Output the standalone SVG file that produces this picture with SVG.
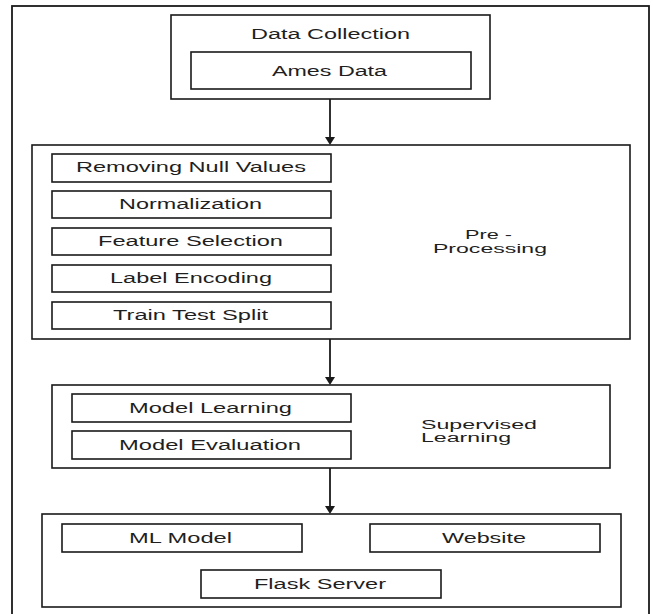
<svg xmlns="http://www.w3.org/2000/svg" width="653" height="614" viewBox="0 0 653 614">
<style>
.box{fill:none;stroke:#1a1a1a;stroke-width:1.6}
.frame{fill:#fff;stroke:#1a1a1a;stroke-width:1.8}
.t{font-family:"Liberation Sans",Arial,sans-serif;font-size:14px;fill:#1f1f1f;text-anchor:middle}
.s{font-family:"Liberation Sans",Arial,sans-serif;font-size:12.5px;fill:#1f1f1f}
.conn{stroke:#1a1a1a;stroke-width:1.8;fill:none}
.head{fill:#1a1a1a}
</style>
<rect x="0" y="0" width="653" height="614" fill="#fff"/>
<rect id="frame" class="frame" x="12" y="6" width="637" height="614"/>
<g id="connectors">
<line class="conn" x1="330" y1="99" x2="330" y2="138"/>
<path class="head" d="M325,137 L335,137 L330,145 Z"/>
<line class="conn" x1="330" y1="339" x2="330" y2="378"/>
<path class="head" d="M325,377 L335,377 L330,385 Z"/>
<line class="conn" x1="330" y1="468" x2="330" y2="507"/>
<path class="head" d="M325,506 L335,506 L330,514 Z"/>
</g>
<g id="data-collection">
<rect class="box" x="171" y="15" width="319" height="84"/>
<text class="t" x="330.5" y="39" textLength="159" lengthAdjust="spacingAndGlyphs">Data Collection</text>
</g>
<g id="ames-data">
<rect class="box" x="191" y="52" width="280" height="37"/>
<text class="t" x="329.5" y="76" textLength="115" lengthAdjust="spacingAndGlyphs">Ames Data</text>
</g>
<g id="pre-processing">
<rect class="box" x="32" y="145" width="598" height="194"/>
<text class="s" x="465" y="239" textLength="47" lengthAdjust="spacingAndGlyphs">Pre -</text>
<text class="s" x="433" y="253" textLength="114" lengthAdjust="spacingAndGlyphs">Processing</text>
</g>
<g id="removing-null-values">
<rect class="box" x="52" y="154" width="279" height="28"/>
<text class="t" x="191" y="172" textLength="230" lengthAdjust="spacingAndGlyphs">Removing Null Values</text>
</g>
<g id="normalization">
<rect class="box" x="52" y="191" width="279" height="27"/>
<text class="t" x="190.5" y="209" textLength="143" lengthAdjust="spacingAndGlyphs">Normalization</text>
</g>
<g id="feature-selection">
<rect class="box" x="52" y="228" width="279" height="27"/>
<text class="t" x="190.5" y="246" textLength="185" lengthAdjust="spacingAndGlyphs">Feature Selection</text>
</g>
<g id="label-encoding">
<rect class="box" x="52" y="265" width="279" height="27"/>
<text class="t" x="191" y="283" textLength="162" lengthAdjust="spacingAndGlyphs">Label Encoding</text>
</g>
<g id="train-test-split">
<rect class="box" x="52" y="302" width="279" height="27"/>
<text class="t" x="190.5" y="320" textLength="155" lengthAdjust="spacingAndGlyphs">Train Test Split</text>
</g>
<g id="supervised-learning">
<rect class="box" x="52" y="385" width="558" height="83"/>
<text class="s" x="421" y="429" textLength="116" lengthAdjust="spacingAndGlyphs">Supervised</text>
<text class="s" x="421" y="442" textLength="90" lengthAdjust="spacingAndGlyphs">Learning</text>
</g>
<g id="model-learning">
<rect class="box" x="72" y="394" width="279" height="28"/>
<text class="t" x="210.5" y="413" textLength="163" lengthAdjust="spacingAndGlyphs">Model Learning</text>
</g>
<g id="model-evaluation">
<rect class="box" x="72" y="431" width="279" height="28"/>
<text class="t" x="210" y="450" textLength="182" lengthAdjust="spacingAndGlyphs">Model Evaluation</text>
</g>
<g id="deployment">
<rect class="box" x="42" y="514" width="579" height="93"/>
</g>
<g id="ml-model">
<rect class="box" x="62" y="524" width="240" height="28"/>
<text class="t" x="180.5" y="543" textLength="103" lengthAdjust="spacingAndGlyphs">ML Model</text>
</g>
<g id="website">
<rect class="box" x="370" y="524" width="230" height="28"/>
<text class="t" x="484" y="543" textLength="84" lengthAdjust="spacingAndGlyphs">Website</text>
</g>
<g id="flask-server">
<rect class="box" x="201" y="570" width="240" height="28"/>
<text class="t" x="320" y="589" textLength="132" lengthAdjust="spacingAndGlyphs">Flask Server</text>
</g>
</svg>
